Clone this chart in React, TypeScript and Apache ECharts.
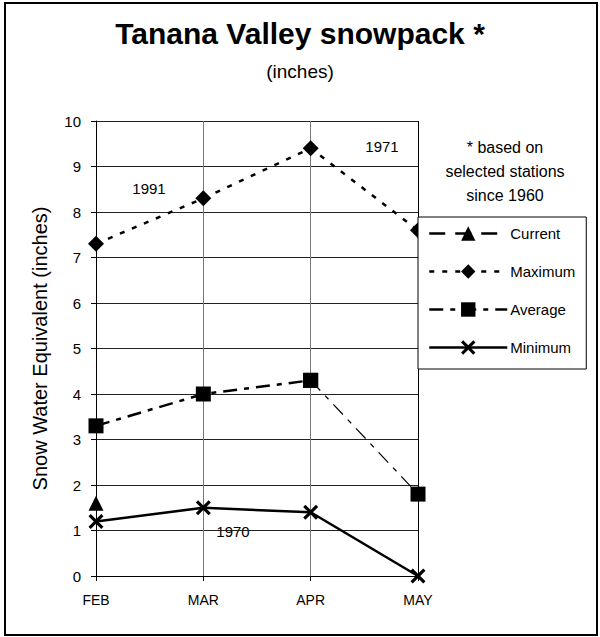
import React, { useEffect, useRef } from "react";
import * as echarts from "echarts";

const months = ["FEB", "MAR", "APR", "MAY"];
const currentValues = [1.6, null, null, null];
const maximumValues = [7.3, 8.3, 9.4, 7.6];
const averageHead = [3.3, 4.0, 4.3, null];
const averageTail = [null, null, 4.3, 1.8];
const minimumValues = [1.2, 1.5, 1.4, 0];
const seriesNames = ["Current", "Maximum", "Average", "Minimum"];
const yTicks = [0, 10, 1];
const titleText = "Tanana Valley snowpack *";
const subtitleText = "(inches)";
const noteLines = ["* based on", "selected stations", "since 1960"];
const yearNotes = ["1991", "1971", "1970"];

const FONT = "'Liberation Sans', Arial, Helvetica, sans-serif";
const X_SYMBOL =
  "path://M0,1.5 L1.5,0 L5,3.5 L8.5,0 L10,1.5 L6.5,5 L10,8.5 L8.5,10 L5,6.5 L1.5,10 L0,8.5 L3.5,5 Z";

export default function App() {
  const ref = useRef<HTMLDivElement>(null);
  useEffect(() => {
    document.body.style.margin = "0";
    const chart = echarts.init(ref.current!, null, { renderer: "svg" });
    const yearStyle = { fontSize: 15, fontFamily: FONT, fill: "#000", align: "center", verticalAlign: "middle" };
    const option: any = {
      animation: false,
      backgroundColor: "#fff",
      textStyle: { fontFamily: FONT, color: "#000" },
      title: [
        {
          text: titleText,
          left: "center",
          top: 13,
          textStyle: { fontSize: 30, fontWeight: "bold", color: "#000", fontFamily: FONT },
        },
        {
          text: subtitleText,
          left: "center",
          top: 57,
          textStyle: { fontSize: 19, fontWeight: "normal", color: "#000", fontFamily: FONT },
        },
      ],
      grid: { left: 96, right: 182, top: 121, bottom: 61, outerBoundsMode: "none", containLabel: false },
      xAxis: {
        type: "category",
        data: months,
        boundaryGap: false,
        axisLine: { show: true, lineStyle: { color: "#000", width: 1 } },
        axisTick: { show: true, length: 5, lineStyle: { color: "#000" } },
        axisLabel: { fontSize: 14, color: "#000", margin: 17, fontFamily: FONT },
        splitLine: { show: true, lineStyle: { color: ["#000", "#777", "#777", "#000"], width: 1 } },
      },
      yAxis: {
        type: "value",
        min: yTicks[0],
        max: yTicks[1],
        interval: yTicks[2],
        name: "Snow Water Equivalent (inches)",
        nameLocation: "middle",
        nameGap: 46,
        nameTextStyle: { fontSize: 20, color: "#000", fontFamily: FONT },
        axisLine: { show: true, lineStyle: { color: "#000", width: 1 } },
        axisTick: { show: true, length: 5, lineStyle: { color: "#000" } },
        axisLabel: { fontSize: 15, color: "#000", margin: 15, fontFamily: FONT },
        splitLine: { show: true, lineStyle: { color: "#222", width: 1 } },
      },
      legend: {
        orient: "vertical",
        left: 418,
        top: 217,
        data: seriesNames,
        backgroundColor: "#fff",
        borderColor: "#000",
        borderWidth: 1,
        padding: [9, 11, 14, 10],
        itemWidth: 78,
        itemHeight: 18,
        itemGap: 23,
        textStyle: { fontSize: 15, color: "#000", fontFamily: FONT, padding: [0, 0, 0, -2] },
        lineStyle: { width: 2.5 },
        z: 10,
      },
      series: [
        {
          name: seriesNames[0],
          type: "line",
          data: currentValues,
          symbol: "triangle",
          symbolSize: 15,
          itemStyle: { color: "#000" },
          lineStyle: { color: "#000", width: 2.5, type: [16, 10] },
          z: 3,
        },
        {
          name: seriesNames[1],
          type: "line",
          data: maximumValues,
          symbol: "diamond",
          symbolSize: 16,
          itemStyle: { color: "#000" },
          lineStyle: { color: "#000", width: 2.5, type: [5, 8] },
          z: 3,
        },
        {
          name: seriesNames[2],
          type: "line",
          data: averageHead,
          symbol: "rect",
          symbolSize: 15,
          itemStyle: { color: "#000" },
          lineStyle: { color: "#000", width: 2.5, type: [14, 7, 5, 7] },
          z: 3,
        },
        {
          name: seriesNames[2],
          type: "line",
          data: averageTail,
          symbol: "rect",
          symbolSize: 15,
          itemStyle: { color: "#000" },
          lineStyle: { color: "#000", width: 1.2, type: [14, 7, 5, 7] },
          z: 3,
        },
        {
          name: seriesNames[3],
          type: "line",
          data: minimumValues,
          symbol: X_SYMBOL,
          symbolSize: 15,
          itemStyle: { color: "#000" },
          lineStyle: { color: "#000", width: 2.5 },
          z: 3,
        },
      ],
      graphic: [
        {
          type: "rect",
          shape: { x: 5, y: 3, width: 592, height: 632 },
          style: { fill: "none", stroke: "#000", lineWidth: 2 },
          z: 0,
          silent: true,
        },
        {
          type: "text",
          x: 505,
          y: 135,
          style: {
            text: noteLines.join("\n"),
            fontSize: 16,
            lineHeight: 24,
            fontFamily: FONT,
            fill: "#000",
            align: "center",
          },
        },
        { type: "text", x: 149, y: 188, style: { ...yearStyle, text: yearNotes[0] } },
        { type: "text", x: 382, y: 146, style: { ...yearStyle, text: yearNotes[1] } },
        { type: "text", x: 233, y: 531, style: { ...yearStyle, text: yearNotes[2] } },
      ],
    };
    chart.setOption(option);
    return () => chart.dispose();
  }, []);
  return <div ref={ref} style={{ width: 600, height: 637 }} />;
}
